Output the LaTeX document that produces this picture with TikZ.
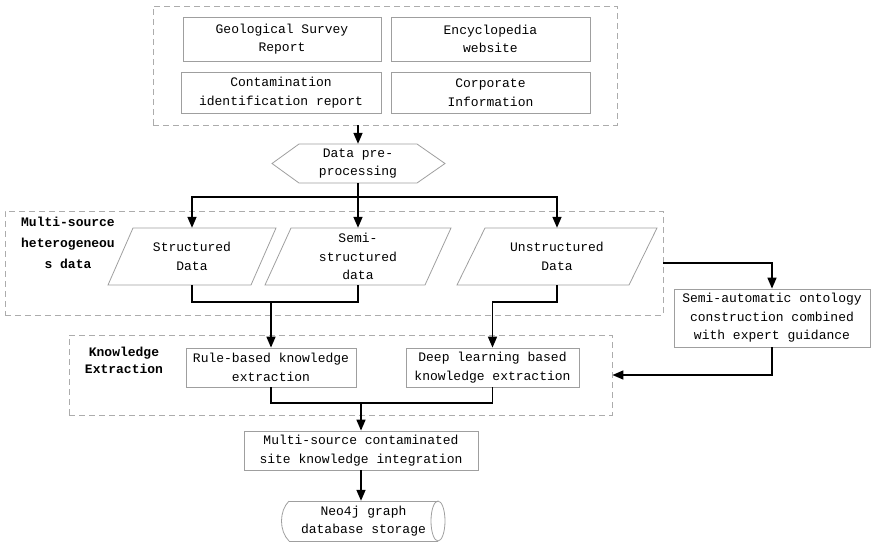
\documentclass[tikz,border=0pt]{standalone}
\usepackage{fontspec}
\setmainfont{Liberation Mono}
\usetikzlibrary{arrows.meta}
\begin{document}
\begin{tikzpicture}[x=1pt,y=-1pt,
  txt/.style={align=center, inner sep=0pt, text=black, font=\fontsize{13}{18.5}\selectfont},
  box/.style={txt, draw=gray!75, line width=0.8pt},
  dbox/.style={draw=gray!65, dash pattern=on 6pt off 4pt, line width=0.9pt, inner sep=0pt},
  shp/.style={draw=gray!75, line width=0.8pt},
  lab/.style={align=center, inner sep=0pt, text=black, font=\fontsize{13}{21}\selectfont\bfseries},
  ln/.style={draw=black, line width=1.6pt},
  arr/.style={draw=black, line width=1.6pt, -{Triangle[width=9pt,length=11pt]}}]
\useasboundingbox (0,0) rectangle (871,542);

% dashed group boxes
\node[dbox, minimum width=464pt, minimum height=119pt] (src) at (385,65.5) {};
\node[dbox, minimum width=658pt, minimum height=104pt] (mid) at (334,263) {};
\node[dbox, minimum width=543pt, minimum height=80pt] (know) at (340.5,375) {};

% sources
\node[box, minimum width=198pt, minimum height=44pt] (geo) at (282,39) {Geological Survey\\Report};
\node[box, minimum width=199pt, minimum height=44pt] (ency) at (490.5,39) {Encyclopedia\\website};
\node[box, minimum width=200pt, minimum height=41pt] (cont) at (281,92.5) {Contamination\\identification report};
\node[box, minimum width=199pt, minimum height=41pt] (corp) at (490.5,92.5) {Corporate\\Information};

% hexagon
\draw[shp] (272,163.5) -- (299,144) -- (417,144) -- (445,163.5) -- (417,183) -- (299,183) -- cycle;
\node[txt, minimum width=173pt, minimum height=39pt] (pre) at (358,163.5) {Data pre-\\processing};

% parallelograms
\draw[shp] (108,285) -- (133,228) -- (276,228) -- (251,285) -- cycle;
\node[txt, minimum width=143pt, minimum height=57pt] (st) at (192,256.5) {Structured\\Data};
\draw[shp] (265,285) -- (291,228) -- (451,228) -- (425,285) -- cycle;
\node[txt, minimum width=160pt, minimum height=57pt] (se) at (358,256.5) {Semi-\\structured\\data};
\draw[shp] (457,285) -- (485,228) -- (657,228) -- (629,285) -- cycle;
\node[txt, minimum width=172pt, minimum height=57pt] (un) at (557,256.5) {Unstructured\\Data};

\node[lab] (labA) at (68,243) {Multi-source\\heterogeneou\\s data};

% ontology
\node[box, minimum width=196pt, minimum height=58pt] (sa) at (772,318) {Semi-automatic ontology\\construction combined\\with expert guidance};

% extraction
\node[lab, font=\fontsize{13}{17}\selectfont\bfseries] (labB) at (124,360) {Knowledge\\Extraction};
\node[box, minimum width=170pt, minimum height=39pt] (rule) at (271,367.5) {Rule-based knowledge\\extraction};
\node[box, minimum width=173pt, minimum height=39pt] (deep) at (492.5,367.5) {Deep learning based\\knowledge extraction};

% integration
\node[box, minimum width=234pt, minimum height=39pt] (ms) at (361,450.5) {Multi-source contaminated\\site knowledge integration};

% storage cylinder (horizontal)
\draw[shp] (289,501) -- (438,501);
\draw[shp] (289,541) -- (438,541);
\draw[shp] (289,501) .. controls (279,511) and (279,531) .. (289,541);
\draw[shp] (438,521) ellipse [x radius=7, y radius=20];
\node[txt, minimum width=163pt, minimum height=40pt] (neo) at (363.5,521) {Neo4j graph\\database storage};

% connectors
\draw[arr] (pre.north |- src.south) -- (pre.north);
\draw[ln] (pre.south) -- ++(0,14) coordinate (j0);
\draw[arr] (j0) -| (st.north);
\draw[arr] (j0) -| (un.north);
\draw[arr] (j0) -- (se.north);

\draw[ln] (st.south) -- ++(0,17) -| (se.south);
\coordinate (j1) at (271,302);
\draw[arr] (j1) -- (rule.north);
\draw[arr] (un.south) -- ++(0,17) -| (deep.north);

\draw[arr] (mid.east) -| (sa.north);
\draw[arr] (sa.south) |- (know.east);

\coordinate (j2) at (361,403);
\draw[ln] (rule.south) |- (j2);
\draw[ln] (deep.south) |- (j2);
\draw[arr] (j2) -- (ms.north);
\draw[arr] (ms.south) -- (ms.south |- neo.north);
\end{tikzpicture}
\end{document}
